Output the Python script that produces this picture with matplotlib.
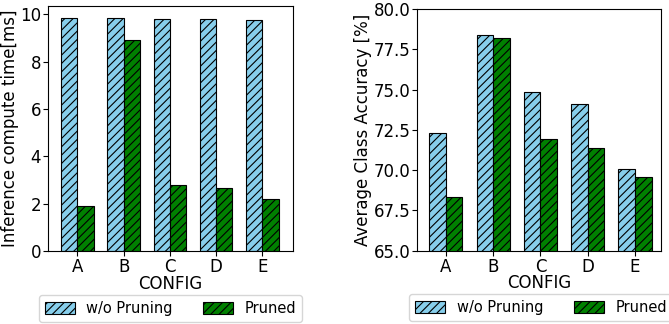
# Inference time and accuracy, with and without pruning, per config
import matplotlib.pyplot as plt
import numpy as np

configs = ["A", "B", "C", "D", "E"]
time_full = [9.85, 9.83, 9.79, 9.78, 9.77]
time_pruned = [1.91, 8.92, 2.80, 2.65, 2.18]
acc_full = [72.32, 78.37, 74.83, 74.09, 70.09]
acc_pruned = [68.35, 78.18, 71.91, 71.37, 69.55]

fs = 12
lfs = 10.5
plt.rcParams['hatch.linewidth'] = 0.8

fig = plt.figure(figsize=(6.69, 3.24), dpi=100)
ax1 = fig.add_axes([0.072, 0.225, 0.366, 0.756])
ax2 = fig.add_axes([0.624, 0.226, 0.364, 0.746])

x = np.arange(len(configs))
w = 0.35

for ax, full, pruned, lx in [(ax1, time_full, time_pruned, 0.5),
                             (ax2, acc_full, acc_pruned, 0.508)]:
    ax.bar(x - w / 2, full, w, color='skyblue', edgecolor='black', hatch='////',
           linewidth=0.8, label='w/o Pruning')
    ax.bar(x + w / 2, pruned, w, color='green', edgecolor='black', hatch='////',
           linewidth=0.8, label='Pruned')
    ax.set_xticks(x)
    ax.set_xticklabels(configs)
    ax.set_xlabel('CONFIG', fontsize=fs, labelpad=-1)
    ax.tick_params(labelsize=fs, pad=1.5)
    ax.legend(loc='upper center', bbox_to_anchor=(lx, -0.18), borderaxespad=0,
              ncol=2, fontsize=lfs, columnspacing=2.1, handlelength=2.05,
              handleheight=0.8)

ax1.set_xlim(-0.63, 4.66)
ax1.set_ylabel('Inference compute time[ms]', fontsize=fs, labelpad=1)
ax1.set_yticks([0, 2, 4, 6, 8, 10])

ax2.set_xlim(-0.6, 4.55)
ax2.set_ylim(65, 80)
ax2.set_yticks([65, 67.5, 70, 72.5, 75, 77.5, 80])
ax2.set_yticklabels(['65.0', '67.5', '70.0', '72.5', '75.0', '77.5', '80.0'])
ax2.set_ylabel('Average Class Accuracy [%]', fontsize=fs, labelpad=1)

fig.savefig('out.png', dpi=100)
